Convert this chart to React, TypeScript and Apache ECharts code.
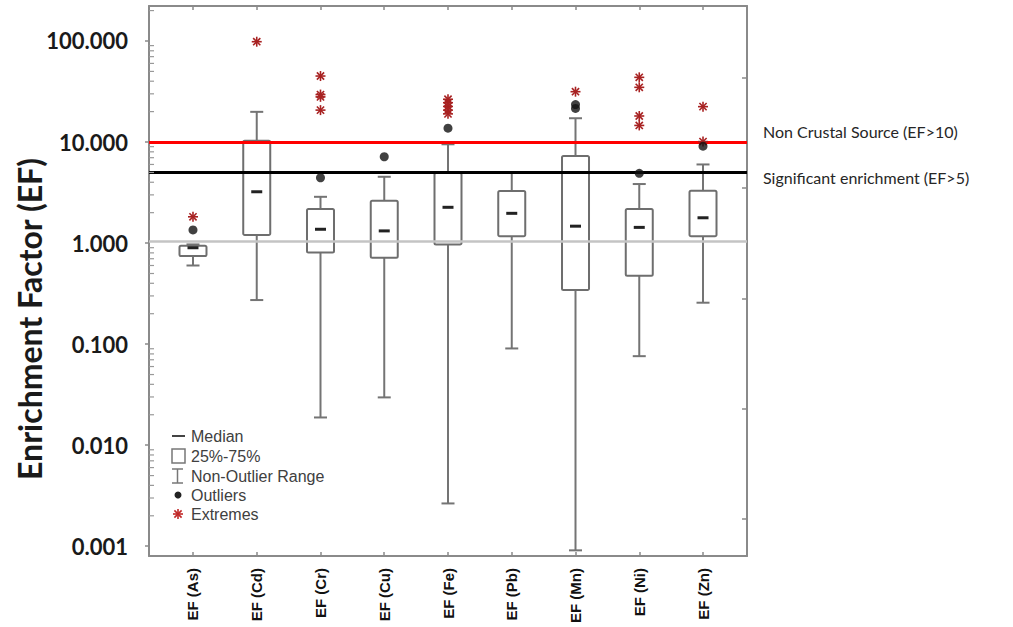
import React, { useEffect, useRef } from "react";
import * as echarts from "echarts";

// ---------- data ----------
const categories = ["EF (As)", "EF (Cd)", "EF (Cr)", "EF (Cu)", "EF (Fe)", "EF (Pb)", "EF (Mn)", "EF (Ni)", "EF (Zn)"];
const whiskerLow = [0.6, 0.273, 0.0188, 0.0297, 0.00265, 0.0906, 0.00091, 0.076, 0.257];
const q1 = [0.743, 1.2, 0.809, 0.715, 0.97, 1.17, 0.343, 0.475, 1.17];
const median = [0.899, 3.22, 1.37, 1.32, 2.26, 1.97, 1.47, 1.43, 1.78];
const q3 = [0.94, 10.3, 2.17, 2.62, 4.93, 3.27, 7.27, 2.17, 3.3];
const whiskerHigh = [0.97, 19.9, 2.87, 4.53, 9.5, 4.95, 17.2, 3.84, 6.0];

// [category index (1-based), value]
const outliers: [number, number][] = [
  [1, 1.35], [3, 4.43], [4, 7.15], [5, 13.7], [7, 21.5], [7, 23.5], [8, 4.9], [9, 9.1],
];
const extremes: [number, number][] = [
  [1, 1.82], [2, 98.4], [3, 45], [3, 29.5], [3, 28], [3, 20.7],
  [5, 26.5], [5, 24.5], [5, 22.5], [5, 20.7], [5, 19], [7, 31.5],
  [8, 43.7], [8, 34.8], [8, 18.1], [8, 14.6], [9, 22.4], [9, 10.1],
];
const thresholds = [
  { value: 10, label: "Non Crustal Source (EF>10)" },
  { value: 5, label: "Significant enrichment (EF>5)" },
  { value: 1.05, label: "" },
];
const yMin = 0.0008;
const yMax = 222;
const xMin = 0.31;
const xMax = 9.69;
const decades = [0.001, 0.01, 0.1, 1, 10, 100];
const minorMultipliers = [2, 3, 4, 5, 6, 7, 8, 9];
const rightTicks = [0, 1, 2, 3, 4];

const positions = categories.map((_, i) => i + 1);
const boxData = positions.map((p, i) => [p, whiskerLow[i], q1[i], median[i], q3[i], whiskerHigh[i]]);
const minorVals: number[][] = [];
decades.forEach((d) => minorMultipliers.forEach((m) => {
  const v = d * m;
  if (v > yMin && v < yMax) minorVals.push([xMin, v]);
}));

const FRAME = "#8a8a8a";
const STAR = "#a82222";

function starShapes(cx: number, cy: number, r: number, color: string, lw: number) {
  const d = r * 0.72;
  const segs = [
    [cx, cy - r, cx, cy + r],
    [cx - r, cy, cx + r, cy],
    [cx - d, cy - d, cx + d, cy + d],
    [cx - d, cy + d, cx + d, cy - d],
  ];
  return segs.map((s) => ({
    type: "line",
    shape: { x1: s[0], y1: s[1], x2: s[2], y2: s[3] },
    style: { stroke: color, lineWidth: lw },
  }));
}

export default function App() {
  const ref = useRef<HTMLDivElement>(null);
  useEffect(() => {
    if (!ref.current) return;
    const chart = echarts.init(ref.current, null, { renderer: "svg" });

    const legendItems = ["Median", "25%-75%", "Non-Outlier Range", "Outliers", "Extremes"];
    const legendY = [436, 456, 476, 495, 514];
    const graphics: any[] = [
      {
        type: "text",
        x: 29,
        y: 319,
        rotation: Math.PI / 2,
        style: {
          text: "Enrichment Factor (EF)",
          font: "bold 32px Lato",
          fill: "#1a1a1a",
          align: "center",
          verticalAlign: "middle",
        },
      },
      ...thresholds.filter((t) => t.label).map((t, i) => ({
        type: "text",
        x: 763,
        y: i === 0 ? 131 : 177,
        style: { text: t.label, font: "16px Lato", fill: "#262626", verticalAlign: "middle" },
      })),
      // legend
      { type: "line", shape: { x1: 172, y1: 436, x2: 185, y2: 436 }, style: { stroke: "#444", lineWidth: 2 } },
      { type: "rect", shape: { x: 172, y: 449, width: 13, height: 14 }, style: { stroke: "#777", fill: "none", lineWidth: 1.5 } },
      { type: "line", shape: { x1: 177.5, y1: 469, x2: 177.5, y2: 483 }, style: { stroke: "#777", lineWidth: 1.5 } },
      { type: "line", shape: { x1: 172, y1: 469, x2: 183, y2: 469 }, style: { stroke: "#777", lineWidth: 1.5 } },
      { type: "line", shape: { x1: 172, y1: 483, x2: 183, y2: 483 }, style: { stroke: "#777", lineWidth: 1.5 } },
      { type: "circle", shape: { cx: 178, cy: 495, r: 3.5 }, style: { fill: "#222" } },
      ...starShapes(178, 514, 5, "#c02828", 1.6),
      ...legendItems.map((t, i) => ({
        type: "text",
        x: 191,
        y: legendY[i],
        style: { text: t, font: "16px 'Liberation Sans'", fill: "#404040", verticalAlign: "middle" },
      })),
    ];

    const option: any = {
      animation: false,
      backgroundColor: "#fff",
      grid: { left: 149, right: 266, top: 6, bottom: 71, containLabel: false },
      xAxis: [
        {
          type: "value",
          min: xMin,
          max: xMax,
          position: "bottom",
          splitLine: { show: false },
          axisLine: { show: true, onZero: false, lineStyle: { color: FRAME, width: 2 } },
          axisTick: { show: true, inside: true, length: 4, customValues: positions, lineStyle: { color: FRAME, width: 1.5 } },
          axisLabel: {
            customValues: positions,
            rotate: 90,
            margin: 12,
            formatter: (v: number) => categories[Math.round(v) - 1] ?? "",
            fontFamily: "'Liberation Sans'",
            fontWeight: "bold",
            fontSize: 15,
            color: "#111",
          },
        },
        {
          type: "value",
          min: xMin,
          max: xMax,
          position: "top",
          splitLine: { show: false },
          axisLine: { show: true, onZero: false, lineStyle: { color: FRAME, width: 2 } },
          axisTick: { show: true, inside: true, length: 4, customValues: positions, lineStyle: { color: FRAME, width: 1.5 } },
          axisLabel: { show: false },
        },
      ],
      yAxis: [
        {
          type: "log",
          logBase: 10,
          min: yMin,
          max: yMax,
          position: "left",
          splitLine: { show: false },
          axisLine: { show: true, onZero: false, lineStyle: { color: FRAME, width: 2 } },
          axisTick: { show: true, inside: false, length: 4, lineStyle: { color: FRAME, width: 1.5 } },
          axisLabel: {
            showMinLabel: false,
            showMaxLabel: false,
            margin: 21,
            formatter: (v: number) => v.toFixed(3),
            fontFamily: "Lato",
            fontWeight: "bold",
            fontSize: 22,
            color: "#1a1a1a",
          },
        },
        {
          type: "value",
          min: -0.3356,
          max: 4.653,
          position: "right",
          splitLine: { show: false },
          axisLine: { show: true, onZero: false, lineStyle: { color: FRAME, width: 2 } },
          axisTick: { show: true, inside: true, length: 5, customValues: rightTicks, lineStyle: { color: FRAME, width: 1.5 } },
          axisLabel: { show: false },
        },
      ],
      graphic: graphics,
      series: [
        {
          name: "minorTicks",
          type: "custom",
          xAxisIndex: 0,
          yAxisIndex: 0,
          z: 6,
          silent: true,
          clip: false,
          data: minorVals,
          renderItem: (params: any, api: any) => {
            const p = api.coord([api.value(0), api.value(1)]);
            return {
              type: "line",
              shape: { x1: p[0], y1: p[1], x2: p[0] + 5, y2: p[1] },
              style: { stroke: "#999", lineWidth: 1.2 },
            };
          },
        },
        {
          name: "boxes",
          type: "custom",
          xAxisIndex: 0,
          yAxisIndex: 0,
          z: 2,
          data: boxData,
          encode: { x: 0, y: [1, 2, 3, 4, 5] },
          renderItem: (params: any, api: any) => {
            const x = api.value(0);
            const pLo = api.coord([x, api.value(1)]);
            const pQ1 = api.coord([x, api.value(2)]);
            const pMed = api.coord([x, api.value(3)]);
            const pQ3 = api.coord([x, api.value(4)]);
            const pHi = api.coord([x, api.value(5)]);
            const cx = pMed[0];
            const hw = 13.5;
            const cap = 6.5;
            const mh = 5.5;
            const wStyle = { stroke: "#747474", lineWidth: 2 };
            return {
              type: "group",
              children: [
                { type: "line", shape: { x1: cx, y1: pHi[1], x2: cx, y2: pQ3[1] }, style: wStyle },
                { type: "line", shape: { x1: cx, y1: pQ1[1], x2: cx, y2: pLo[1] }, style: wStyle },
                { type: "line", shape: { x1: cx - cap, y1: pHi[1], x2: cx + cap, y2: pHi[1] }, style: wStyle },
                { type: "line", shape: { x1: cx - cap, y1: pLo[1], x2: cx + cap, y2: pLo[1] }, style: wStyle },
                {
                  type: "rect",
                  shape: { x: cx - hw, y: pQ3[1], width: hw * 2, height: pQ1[1] - pQ3[1], r: 1.5 },
                  style: { fill: "#fff", stroke: "#6e6e6e", lineWidth: 2 },
                },
                { type: "line", shape: { x1: cx - mh, y1: pMed[1], x2: cx + mh, y2: pMed[1] }, style: { stroke: "#222", lineWidth: 3 } },
              ],
            };
          },
        },
        {
          name: "thresholds",
          type: "line",
          xAxisIndex: 0,
          yAxisIndex: 0,
          z: 3,
          data: [],
          markLine: {
            silent: true,
            symbol: "none",
            label: { show: false },
            data: [
              { yAxis: thresholds[0].value, lineStyle: { color: "#ff0000", width: 3, type: "solid" } },
              { yAxis: thresholds[1].value, lineStyle: { color: "#000000", width: 3, type: "solid" } },
              { yAxis: thresholds[2].value, lineStyle: { color: "#c4c4c4", width: 2.5, type: "solid" } },
            ],
          },
        },
        {
          name: "Outliers",
          type: "scatter",
          xAxisIndex: 0,
          yAxisIndex: 0,
          z: 5,
          symbol: "circle",
          symbolSize: 9,
          itemStyle: { color: "#111" },
          data: outliers,
        },
        {
          name: "Extremes",
          type: "custom",
          xAxisIndex: 0,
          yAxisIndex: 0,
          z: 5,
          data: extremes,
          renderItem: (params: any, api: any) => {
            const p = api.coord([api.value(0), api.value(1)]);
            return { type: "group", children: starShapes(p[0], p[1], 5, STAR, 1.6) };
          },
        },
      ],
    };
    chart.setOption(option);
    return () => chart.dispose();
  }, []);
  return (
    <div
      ref={ref}
      style={{ position: "absolute", left: 0, top: 0, width: 1013, height: 627, background: "#fff" }}
    />
  );
}
